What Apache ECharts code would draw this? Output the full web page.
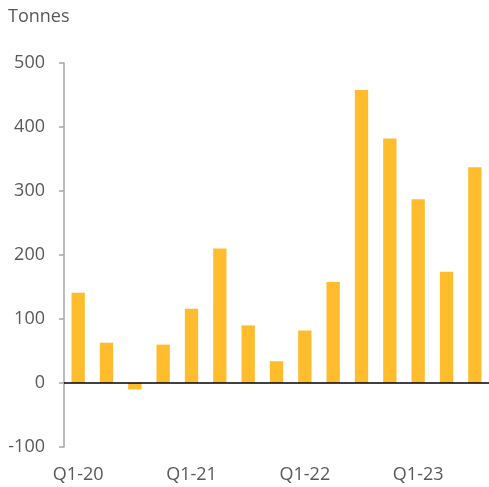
<!DOCTYPE html>
<html>
<head>
<meta charset="utf-8">
<script src="https://cdn.jsdelivr.net/npm/echarts@6/dist/echarts.min.js"></script>
<style>
html,body{margin:0;padding:0;background:#fff;}
#chart{width:489px;height:487px;}
</style>
</head>
<body>
<div id="chart"></div>
<script>
const categories = ['Q1-20','Q2-20','Q3-20','Q4-20','Q1-21','Q2-21','Q3-21','Q4-21','Q1-22','Q2-22','Q3-22','Q4-22','Q1-23','Q2-23','Q3-23'];
const values = [141, 63, -10, 60, 116, 210, 90, 34, 82, 158, 458, 382, 287, 174, 337];
const yTicks = { min: -100, max: 500, interval: 100 };
const unitLabel = 'Tonnes';

const FONT = '"Open Sans", sans-serif';
const TXT = '#595959';
const chart = echarts.init(document.getElementById('chart'), null, {renderer: 'canvas'});
chart.setOption({
  animation: false,
  backgroundColor: '#ffffff',
  grid: { left: 64, right: 0, top: 63, bottom: 40, containLabel: false },
  graphic: [{
    type: 'text', left: 8, top: 8,
    style: { text: unitLabel, fill: TXT, font: '18px ' + FONT }
  }],
  xAxis: {
    type: 'category',
    data: categories,
    axisLine: { show: false, onZero: false },
    axisTick: { show: false },
    axisLabel: { interval: 3, color: TXT, fontSize: 18, fontFamily: FONT, margin: 19 },
    splitLine: { show: false }
  },
  yAxis: {
    type: 'value',
    min: yTicks.min, max: yTicks.max, interval: yTicks.interval,
    axisLine: { show: true, lineStyle: { color: '#a6a6a6', width: 1.5 } },
    axisTick: { show: true, length: 5, lineStyle: { color: '#a6a6a6', width: 1.5 } },
    axisLabel: { color: TXT, fontSize: 18, fontFamily: FONT, margin: 19 },
    splitLine: { show: false }
  },
  series: [{
    type: 'bar',
    data: values,
    barWidth: '47%',
    itemStyle: { color: '#FFBD2E' },
    markLine: {
      silent: true, symbol: 'none', label: { show: false },
      lineStyle: { color: '#000000', width: 1.5, type: 'solid' },
      data: [{ yAxis: 0 }]
    }
  }]
});
</script>
</body>
</html>
